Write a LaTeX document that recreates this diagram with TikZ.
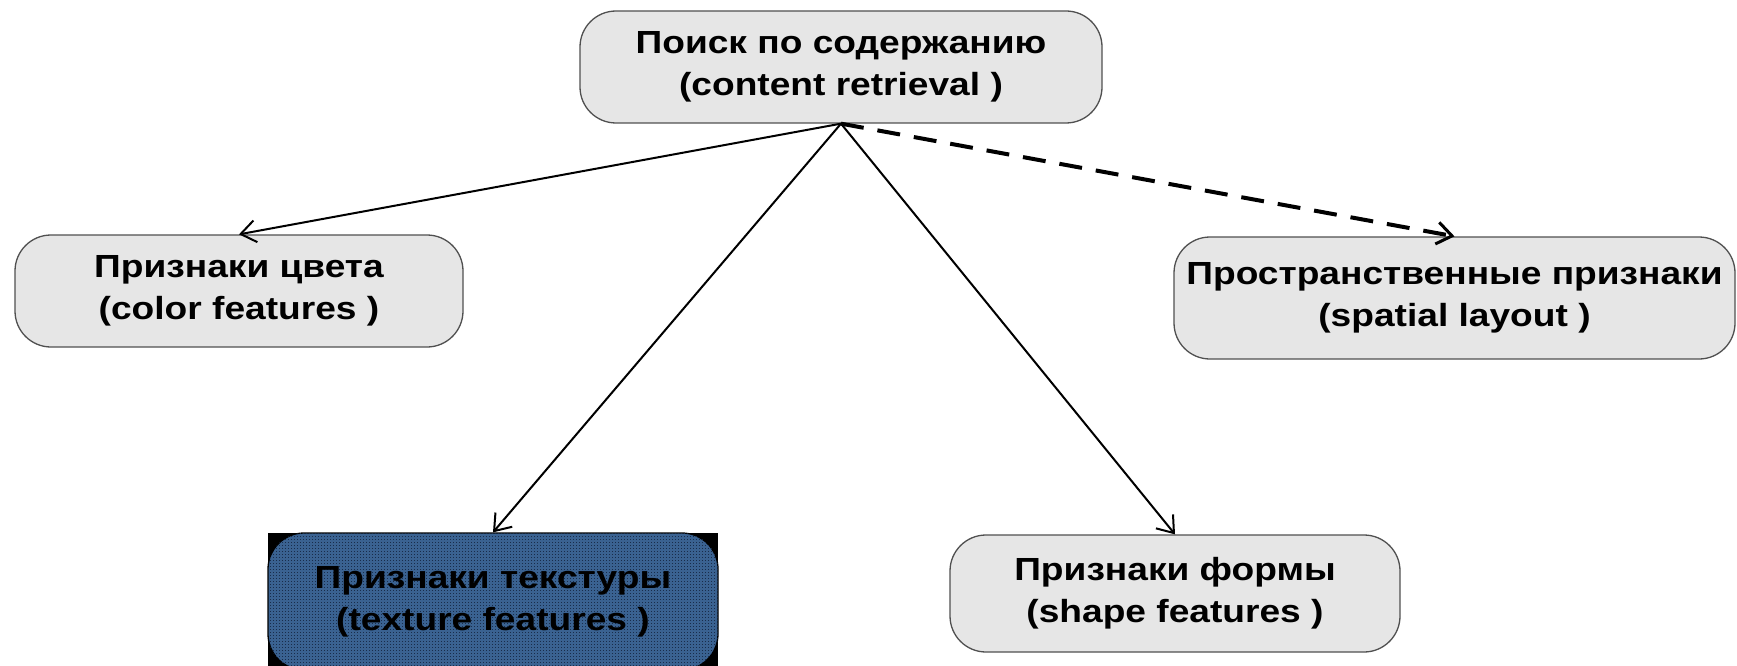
\documentclass[tikz,border=0pt]{standalone}
\usepackage{fontspec}
\setmainfont{Liberation Sans}[FakeStretch=1.16]
\usetikzlibrary{arrows.meta,patterns.meta}
\definecolor{boxfill}{RGB}{230,230,230}
\definecolor{boxline}{RGB}{80,80,80}
\definecolor{texblue}{RGB}{58,98,145}
\definecolor{texdot}{RGB}{25,45,75}
\tikzdeclarepattern{name=griddots, type=uncolored,
  bottom left={(0pt,0pt)}, top right={(3pt,3pt)}, tile size={(3pt,3pt)},
  code={\pgfpathrectangle{\pgfpointorigin}{\pgfpoint{1.2pt}{1.2pt}}\pgfusepath{fill}}}
\begin{document}
\begin{tikzpicture}[x=1pt,y=-1pt,
  box/.style={draw=boxline, line width=1.3pt, fill=boxfill, rounded corners=36pt,
    inner sep=0pt, align=center, font=\bfseries\fontsize{32}{42}\selectfont},
  arr/.style={line width=2pt, -{Straight Barb[length=15pt,width=22pt,line width=2pt]}},
  darr/.style={line width=4pt, dash pattern=on 23pt off 14pt, -{Straight Barb[length=15pt,width=22pt,line width=3pt]}}]
\useasboundingbox (0,0) rectangle (1737,666);
\node[box, minimum width=522pt, minimum height=112pt] (root) at (841,67) {Поиск по содержанию\\(content retrieval )};
\node[box, minimum width=448pt, minimum height=112pt] (color) at (239,291) {Признаки цвета\\(color features )};
\node[box, minimum width=561pt, minimum height=122pt] (spatial) at (1454.5,298) {Пространственные признаки\\(spatial layout )};
\node[box, minimum width=450pt, minimum height=117pt] (shape) at (1175,593.5) {Признаки формы\\(shape features )};
\fill[black] (268,533) rectangle (718,670);
\node[box, draw=black, fill=texblue, postaction={pattern={griddots}, pattern color=texdot},
  minimum width=450pt, minimum height=137pt] (texture) at (493,601.5) {Признаки текстуры\\(texture features )};
\draw[arr] (root.south) -- (color.north);
\draw[arr] (root.south) -- (texture.north);
\draw[arr] (root.south) -- (shape.north);
\draw[darr] (root.south) -- (spatial.north);
\end{tikzpicture}
\end{document}
